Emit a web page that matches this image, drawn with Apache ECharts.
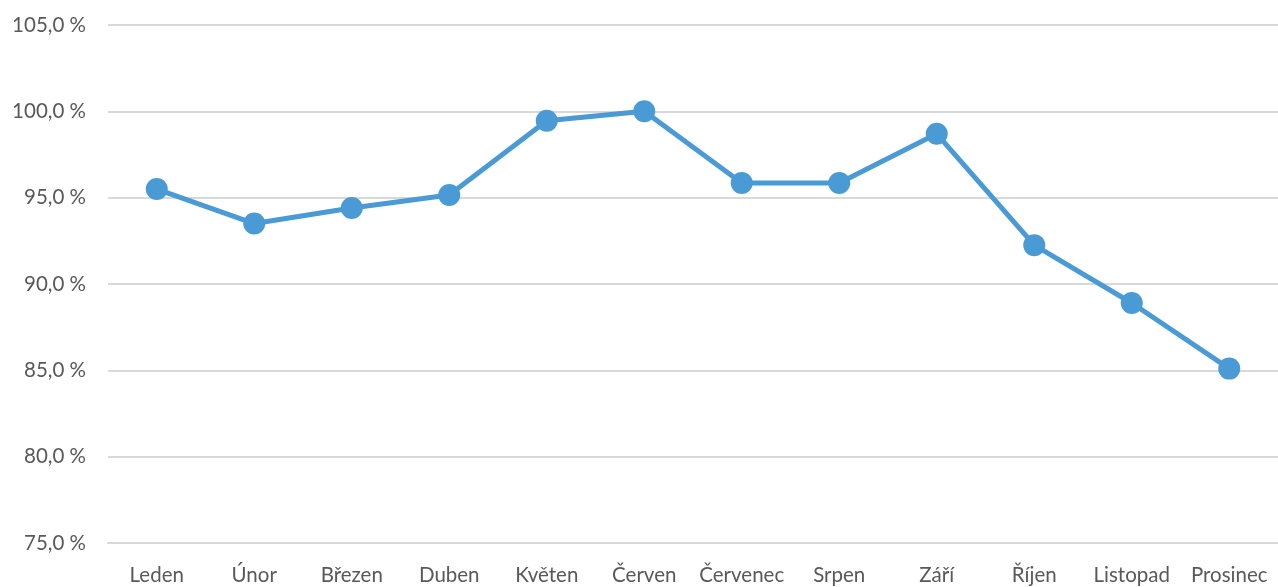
<!DOCTYPE html>
<html>
<head>
<meta charset="utf-8">
<script src="https://cdn.jsdelivr.net/npm/echarts@6/dist/echarts.min.js"></script>
<style>
  html, body { margin: 0; padding: 0; background: #fff; }
  #chart { width: 1278px; height: 587px; }
</style>
</head>
<body>
<div id="chart"></div>
<script>
var months = ['Leden', 'Únor', 'Březen', 'Duben', 'Květen', 'Červen', 'Červenec', 'Srpen', 'Září', 'Říjen', 'Listopad', 'Prosinec'];
var values = [95.5, 93.5, 94.4, 95.15, 99.45, 100.0, 95.85, 95.85, 98.7, 92.25, 88.9, 85.1];

var chart = echarts.init(document.getElementById('chart'));
chart.setOption({
    animation: false,
    grid: { left: 108, right: 0, top: 25, bottom: 44, containLabel: false },
    xAxis: {
        type: 'category',
        data: months,
        boundaryGap: true,
        axisLine: { show: true, lineStyle: { color: '#d9d9d9', width: 2 } },
        axisTick: { show: false },
        axisLabel: { color: '#595959', fontSize: 20.5, fontFamily: 'Lato', margin: 22, interval: 0 }
    },
    yAxis: {
        type: 'value',
        min: 75,
        max: 105,
        interval: 5,
        axisLine: { show: false },
        axisTick: { show: false },
        splitLine: { lineStyle: { color: '#d9d9d9', width: 2 } },
        axisLabel: {
            color: '#595959', fontSize: 20.5, fontFamily: 'Lato', margin: 22,
            formatter: function (v) { return v.toFixed(1).replace('.', ',') + ' %'; }
        }
    },
    series: [{
        type: 'line',
        data: values,
        symbol: 'circle',
        symbolSize: 22,
        lineStyle: { color: '#4a9ad6', width: 5 },
        itemStyle: { color: '#4a9ad6' }
    }]
});
</script>
</body>
</html>
